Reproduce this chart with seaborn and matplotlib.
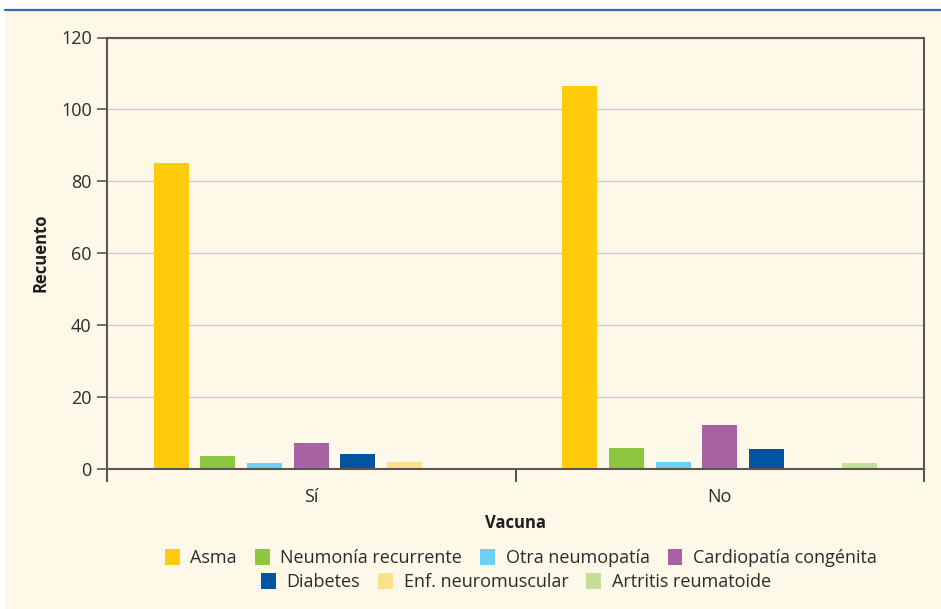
import numpy as np
import pandas as pd
import matplotlib
matplotlib.use("Agg")
import matplotlib.pyplot as plt
from matplotlib.patches import Patch, Rectangle
from matplotlib.lines import Line2D
import seaborn as sns

# datos
vacuna = ["Sí", "No"]
enfermedades = ["Asma", "Neumonía recurrente", "Otra neumopatía", "Cardiopatía congénita",
                "Diabetes", "Enf. neuromuscular", "Artritis reumatoide"]
recuento_si = [85, 3.5, 1.5, 7, 4, 1.8, 0]
recuento_no = [106.5, 5.7, 1.8, 12.2, 5.4, 0, 1.5]
colores = ["#FFCB0B", "#8DC63F", "#6DCFF6", "#A862A4", "#0054A0", "#FDE08D", "#C5DF9A"]

df = pd.DataFrame({
    "Vacuna": np.repeat(vacuna, len(enfermedades)),
    "Enfermedad": enfermedades * 2,
    "Recuento": recuento_si + recuento_no,
})

crema = "#FEF8E8"
gris = "#5A5652"

sns.set_style("white")
plt.rcParams["font.family"] = ["Open Sans", "DejaVu Sans"]

fig = plt.figure(figsize=(9.41, 6.09), dpi=100)
fig.patch.set_facecolor("white")
fig.add_artist(Rectangle((5 / 941, 0), 1, 1 - 11 / 609, transform=fig.transFigure,
                         facecolor=crema, edgecolor="none", zorder=-10))
fig.add_artist(Line2D([5 / 941, 1], [1 - 10 / 609, 1 - 10 / 609], transform=fig.transFigure,
                      color="#2E6DB4", lw=1.6))

ax = fig.add_axes([107 / 941, 1 - 468.5 / 609, (924 - 107) / 941, (468.5 - 37.5) / 609])
ax.set_facecolor(crema)

sns.barplot(data=df, x="Vacuna", y="Recuento", hue="Enfermedad", hue_order=enfermedades,
            palette=colores, width=0.8, gap=0.25, saturation=1, legend=False,
            linewidth=0, edgecolor="none", ax=ax)

ax.set_ylim(0, 120)
ax.set_xlim(-0.5, 1.5)
ax.set_yticks([0, 20, 40, 60, 80, 100, 120])
ax.yaxis.grid(True, color="#CBCBCB", lw=1)
ax.set_axisbelow(True)
for s in ax.spines.values():
    s.set_visible(True)
    s.set_color(gris)
    s.set_linewidth(1.5)

ax.tick_params(axis="y", left=True, length=7, width=1.2, color=gris, labelsize=13,
               labelcolor="#2B2B2B", pad=4)
ax.tick_params(axis="x", which="major", bottom=False, length=0, labelsize=13,
               labelcolor="#2B2B2B", pad=14)
ax.set_xticks([-0.5, 0.5, 1.5], minor=True)
ax.tick_params(axis="x", which="minor", bottom=True, length=9, width=1.5, color=gris)

ax.set_xlabel("Vacuna", fontsize=12, fontweight="bold", color="#1E1E1E", labelpad=6)
ax.set_ylabel("Recuento", fontsize=12, fontweight="bold", color="#1E1E1E", labelpad=8)

handles = [Patch(facecolor=c, edgecolor="none") for c in colores]
kw = dict(frameon=False, fontsize=13, handlelength=0.8, handleheight=1.0,
          handletextpad=0.6, columnspacing=1.0, labelcolor="#2B2B2B")
leg1 = fig.legend(handles[:4], enfermedades[:4], ncol=4, loc="center",
                  bbox_to_anchor=(521 / 941, 1 - 558 / 609), **kw)
leg2 = fig.legend(handles[4:], enfermedades[4:], ncol=3, loc="center",
                  bbox_to_anchor=(516 / 941, 1 - 582 / 609), **kw)

fig.savefig("out.png", dpi=100, facecolor=fig.get_facecolor())
